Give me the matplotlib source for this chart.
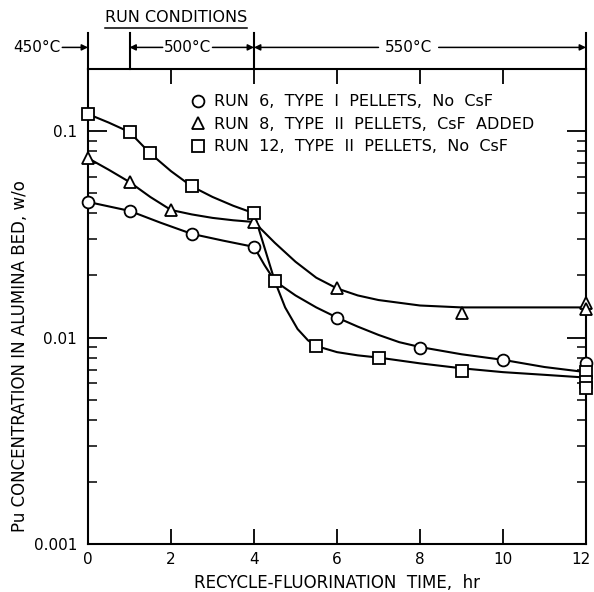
import numpy as np
import matplotlib.pyplot as plt
from matplotlib.lines import Line2D
from matplotlib.transforms import ScaledTranslation
from matplotlib.ticker import LogLocator, NullFormatter, FixedLocator, FixedFormatter

#------------------ measured points ------------------
run6_t = [0, 1, 2.5, 4, 6, 8, 10, 12]
run6_c = [0.0454, 0.0411, 0.0318, 0.0275, 0.0125, 0.0089, 0.0078, 0.0075]

run8_t = [0, 1, 2, 4, 6, 9, 12, 12]
run8_c = [0.074, 0.0567, 0.0415, 0.0363, 0.0173, 0.0132, 0.0147, 0.0137]

run12_t = [0, 1, 1.5, 2.5, 4, 4.5, 5.5, 7, 9, 12, 12, 12]
run12_c = [0.121, 0.099, 0.078, 0.054, 0.040, 0.0188, 0.0091, 0.0080, 0.0069, 0.0068, 0.0061, 0.0057]

#------------------ hand drawn curves ------------------
run6_curve_t = [0, 1, 1.75, 2.5, 3.25, 4, 4.25, 4.5, 5, 5.5, 6, 6.5, 7, 7.5, 8, 9, 10, 11, 12]
run6_curve_c = [0.0454, 0.0411, 0.0360, 0.0318, 0.0295, 0.0275, 0.0225, 0.0188, 0.0160, 0.0140,
                0.0125, 0.0113, 0.0103, 0.0095, 0.0090, 0.0083, 0.0078, 0.0072, 0.0068]

run8_curve_t = [0, 0.5, 1, 1.5, 2, 2.5, 3, 3.5, 4, 4.5, 5, 5.5, 6, 6.5, 7, 8, 9, 12]
run8_curve_c = [0.074, 0.065, 0.0567, 0.048, 0.0415, 0.0395, 0.0380, 0.0370, 0.0363, 0.0288,
                0.0233, 0.0195, 0.0173, 0.0160, 0.0152, 0.0143, 0.0140, 0.0140]

run12_curve_t = [0, 0.5, 1, 1.5, 2, 2.5, 3, 3.5, 4, 4.25, 4.5, 4.75, 5.05, 5.3, 5.5, 6, 6.5, 7, 8, 9, 10, 11, 12]
run12_curve_c = [0.121, 0.110, 0.099, 0.078, 0.064, 0.054, 0.048, 0.0435, 0.040, 0.0274, 0.0188,
                 0.0140, 0.0110, 0.0097, 0.0091, 0.0085, 0.0082, 0.0080, 0.0075, 0.0071, 0.0068, 0.0066, 0.0064]

x_ticks = [0, 2, 4, 6, 8, 10, 12]
y_ticks = [0.001, 0.01, 0.1]
y_labels = ["0.001", "0.01", "0.1"]

labels = ["RUN  6,  TYPE  I  PELLETS,  No  CsF",
          "RUN  8,  TYPE  II  PELLETS,  CsF  ADDED",
          "RUN  12,  TYPE  II  PELLETS,  No  CsF"]

# run condition boundaries (hr)
cond_t = [0, 1, 4, 12]

plt.rcParams['font.family'] = 'DejaVu Sans'
fig = plt.figure(figsize=(5.94, 5.92), dpi=100)
ax = fig.add_axes([88/594, 48/592, 498/594, 475/592])

lw = 1.5
ax.plot(run6_curve_t, run6_curve_c, c='black', lw=lw)
ax.plot(run8_curve_t, run8_curve_c, c='black', lw=lw)
ax.plot(run12_curve_t, run12_curve_c, c='black', lw=lw)

ms = 8.5
ax.plot(run6_t, run6_c, linestyle='none', marker='o', mfc='white', mec='black', mew=1.3, ms=ms, clip_on=False, zorder=5)
ax.plot(run8_t, run8_c, linestyle='none', marker='^', mfc='white', mec='black', mew=1.3, ms=ms, clip_on=False, zorder=5)
ax.plot(run12_t, run12_c, linestyle='none', marker='s', mfc='white', mec='black', mew=1.3, ms=ms - 0.5, clip_on=False, zorder=5)

ax.set_yscale('log')
ax.set_xlim(0, 12)
ax.set_ylim(0.001, 0.2)
ax.yaxis.set_major_locator(FixedLocator(y_ticks))
ax.yaxis.set_major_formatter(FixedFormatter(y_labels))
ax.yaxis.set_minor_locator(LogLocator(base=10, subs=np.arange(2, 10)))
ax.yaxis.set_minor_formatter(NullFormatter())
ax.set_xticks(x_ticks)
ax.set_xticklabels([str(t) for t in x_ticks])

ax.tick_params(axis='y', which='major', direction='in', length=14, width=1.3, left=True, right=True, labelsize=11, pad=8)
ax.tick_params(axis='y', which='minor', direction='in', length=6.5, width=1.1, left=True, right=True)
ax.tick_params(axis='x', which='major', direction='in', length=11, width=1.3, top=True, bottom=True, labelsize=11, pad=6)
for s in ax.spines.values():
    s.set_linewidth(1.5)

# keep the "12" inside the canvas
last = ax.get_xticklabels()[-1]
last.set_transform(last.get_transform() + ScaledTranslation(-4/72, 0, fig.dpi_scale_trans))

ax.set_xlabel("RECYCLE-FLUORINATION  TIME,  hr", fontsize=12, labelpad=5)
fig.text(20/594, 1 - 356/592, "Pu CONCENTRATION IN ALUMINA BED, w/o", rotation=90,
         ha='center', va='center', fontsize=12)

handles = [Line2D([], [], linestyle='none', marker=m, mfc='white', mec='black', mew=1.3, ms=ms)
           for m in ['o', '^', 's']]
ax.legend(handles, labels, loc='upper left', bbox_to_anchor=(0.205, 0.947),
          frameon=False, fontsize=11.5, handlelength=1.0, handletextpad=0.5,
          labelspacing=0.47, borderaxespad=0, borderpad=0)

#------------------ run conditions strip ------------------
top = fig.add_axes([88/594, (592 - 69)/592, 498/594, 36/592], sharex=ax)
top.set_ylim(0, 1)
top.axis('off')
for t in cond_t:
    top.plot([t, t], [0, 1], c='black', lw=1.5, clip_on=False)

ya = 0.6
arr = dict(arrowstyle='-|>', color='black', lw=1.1, mutation_scale=9, shrinkA=0, shrinkB=0)
top.annotate('', xy=(0, ya), xytext=(-0.62, ya), arrowprops=arr)
top.text(-0.67, ya, "450°C", ha='right', va='center', fontsize=11)

top.annotate('', xy=(1, ya), xytext=(1.8, ya), arrowprops=arr)
top.annotate('', xy=(4, ya), xytext=(3.0, ya), arrowprops=arr)
top.text(2.4, ya, "500°C", ha='center', va='center', fontsize=11)

top.annotate('', xy=(4, ya), xytext=(7.0, ya), arrowprops=arr)
top.annotate('', xy=(12, ya), xytext=(8.45, ya), arrowprops=arr)
top.text(7.72, ya, "550°C", ha='center', va='center', fontsize=11)

top.text(2.12, 1.42, "RUN CONDITIONS", ha='center', va='center', fontsize=11.5)
top.plot([0.42, 3.83], [1.15, 1.15], c='black', lw=1.1, clip_on=False)

fig.savefig("out.png", dpi=100)
